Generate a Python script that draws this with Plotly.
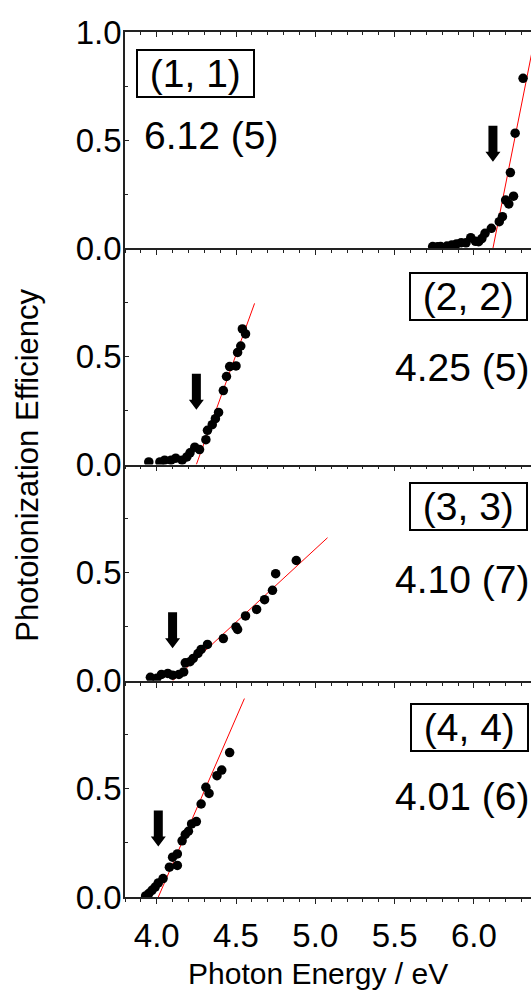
import plotly.graph_objects as go

# Photoionization efficiency curves for four cluster sizes
sizes = ["(1, 1)", "(2, 2)", "(3, 3)", "(4, 4)"]
threshold_text = ["6.12 (5)", "4.25 (5)", "4.10 (7)", "4.01 (6)"]
thresholds = [6.12, 4.25, 4.10, 4.01]

# photon energy (eV) and efficiency, one pair per panel
e1 = [5.74, 5.77, 5.79, 5.83, 5.86, 5.89, 5.92, 5.95, 5.98, 6.01, 6.03, 6.05, 6.07,
      6.11, 6.16, 6.18, 6.20, 6.22, 6.25, 6.23, 6.26, 6.31]
p1 = [0.008, 0.007, 0.008, 0.010, 0.015, 0.020, 0.026, 0.025, 0.049, 0.032, 0.030,
      0.045, 0.069, 0.092, 0.123, 0.146, 0.223, 0.205, 0.241, 0.350, 0.532, 0.786]

e2 = [3.95, 4.02, 4.05, 4.09, 4.12, 4.16, 4.19, 4.21, 4.24, 4.27, 4.31, 4.32,
      4.35, 4.37, 4.39, 4.42, 4.44, 4.46, 4.50, 4.51, 4.53, 4.54, 4.56]
p2 = [0.012, 0.012, 0.020, 0.020, 0.029, 0.020, 0.035, 0.054, 0.080, 0.069, 0.115,
      0.158, 0.184, 0.212, 0.241, 0.342, 0.407, 0.453, 0.456, 0.518, 0.548, 0.627, 0.604]

e3 = [3.96, 4.00, 4.03, 4.07, 4.10, 4.14, 4.17, 4.18, 4.21, 4.23, 4.26, 4.28,
      4.32, 4.42, 4.50, 4.51, 4.56, 4.63, 4.68, 4.73, 4.75, 4.88]
p3 = [0.016, 0.011, 0.029, 0.034, 0.026, 0.029, 0.041, 0.083, 0.088, 0.103, 0.126,
      0.145, 0.168, 0.195, 0.249, 0.237, 0.300, 0.330, 0.375, 0.418, 0.495, 0.556]

e4 = [3.93, 3.95, 3.97, 3.99, 4.01, 4.04, 4.08, 4.13, 4.10, 4.13, 4.16, 4.18,
      4.20, 4.22, 4.25, 4.28, 4.33, 4.31, 4.38, 4.41, 4.46]
p4 = [0.005, 0.016, 0.031, 0.046, 0.065, 0.085, 0.138, 0.146, 0.184, 0.199, 0.260,
      0.289, 0.304, 0.338, 0.349, 0.430, 0.479, 0.507, 0.561, 0.587, 0.668]

energies = [e1, e2, e3, e4]
efficiencies = [p1, p2, p3, p4]

# linear onset fits: y = slope * (E - threshold), drawn up to fit_end
fit_slope = [3.69, 2.03, 0.677, 1.69]
fit_end = [6.40, 4.617, 5.077, 4.553]

# height at which each onset arrow points
arrow_tip = [0.40, 0.253, 0.15, 0.233]

x_ticks = [4.0, 4.5, 5.0, 5.5, 6.0]
x_ticktext = ["4.0", "4.5", "5.0", "5.5", "6.0"]

FONT = "Liberation Sans, Arial, sans-serif"
AX = "#222222"
X_RANGE = [3.80, 6.36]

fig = go.Figure()

for k in range(4):
    xa = "x" if k == 0 else f"x{k + 1}"
    ya = "y" if k == 0 else f"y{k + 1}"
    t0 = thresholds[k]
    fx = [t0, fit_end[k]]
    fy = [0.0, fit_slope[k] * (fit_end[k] - t0)]
    fig.add_trace(go.Scatter(x=fx, y=fy, mode="lines", xaxis=xa, yaxis=ya,
                             line=dict(color="#ff0000", width=1), showlegend=False,
                             hoverinfo="skip"))
    fig.add_trace(go.Scatter(x=energies[k], y=efficiencies[k], mode="markers",
                             xaxis=xa, yaxis=ya, showlegend=False,
                             marker=dict(color="black", size=9.5, line=dict(width=0))))

# top frame of the uppermost panel
fig.add_trace(go.Scatter(x=[], y=[], xaxis="x5", yaxis="y", showlegend=False))

domains = [[0.75, 1.0], [0.5, 0.75], [0.25, 0.5], [0.0, 0.25]]

layout = dict(
    width=531, height=990,
    margin=dict(l=124.5, r=0, t=31.7, b=92.7),
    paper_bgcolor="white", plot_bgcolor="white",
    font=dict(family=FONT, color="black"),
    showlegend=False,
)

for k in range(4):
    xname = "xaxis" if k == 0 else f"xaxis{k + 1}"
    yname = "yaxis" if k == 0 else f"yaxis{k + 1}"
    yref = "y" if k == 0 else f"y{k + 1}"
    layout[xname] = dict(
        range=X_RANGE, anchor=yref, domain=[0, 1],
        showline=True, linecolor=AX, linewidth=1.5, mirror=False,
        showgrid=False, zeroline=False,
        tickmode="array", tickvals=x_ticks, ticktext=x_ticktext,
        ticks="outside", ticklen=5, tickwidth=1.2, tickcolor=AX,
        minor=dict(dtick=0.1, tick0=3.8, ticks="outside", ticklen=3,
                   tickwidth=1, tickcolor=AX),
        showticklabels=(k == 3),
        tickfont=dict(size=33, family=FONT, color="black"),
        ticklabelstandoff=4,
    )
    if k != 3:
        layout[xname]["matches"] = "x4"
    yvals = [0.0, 0.5, 1.0] if k == 0 else [0.0, 0.5]
    layout[yname] = dict(
        range=[0, 1.0], domain=domains[k], anchor=xname.replace("axis", ""),
        showline=True, linecolor=AX, linewidth=1.5, mirror=False,
        showgrid=False, zeroline=False,
        tickmode="array", tickvals=yvals, ticktext=[f"{v:.1f}" for v in yvals],
        ticks="inside", ticklen=4, tickwidth=1.2, tickcolor=AX,
        minor=dict(tickmode="array", tickvals=[0.25, 0.75], ticks="inside",
                   ticklen=3, tickwidth=1, tickcolor=AX),
        tickfont=dict(size=33, family=FONT, color="black"),
        ticklabelstandoff=-5,
    )

layout["xaxis5"] = dict(
    range=X_RANGE, overlaying="x", side="top", anchor="y",
    showline=True, linecolor=AX, linewidth=1.5, showgrid=False, zeroline=False,
    tickmode="array", tickvals=x_ticks, ticks="inside", ticklen=5,
    tickwidth=1.2, tickcolor=AX, showticklabels=False,
    minor=dict(dtick=0.1, tick0=3.8, ticks="inside", ticklen=3,
               tickwidth=1, tickcolor=AX),
)

fig.update_layout(**layout)

# size labels (boxed) and onset energies
box_pos = [(0.026, 0.809, "left"), (0.992, 0.777, "right"),
           (0.992, 0.804, "right"), (0.994, 0.786, "right")]
val_pos = [(0.042, 0.523, "left"), (1.0, 0.45, "right"),
           (1.0, 0.467, "right"), (1.0, 0.463, "right")]
annotations = []
for k in range(4):
    xr = "x domain" if k == 0 else f"x{k + 1} domain"
    yr = "y domain" if k == 0 else f"y{k + 1} domain"
    bx, by, bxa = box_pos[k]
    annotations.append(dict(
        text="\u00a0" + sizes[k] + "\u00a0", xref=xr, yref=yr, x=bx, y=by,
        xanchor=bxa, yanchor="middle", showarrow=False,
        font=dict(size=39, family=FONT, color="black"),
        bordercolor="black", borderwidth=2, borderpad=1))
    vx, vy, vxa = val_pos[k]
    annotations.append(dict(
        text=threshold_text[k], xref=xr, yref=yr, x=vx, y=vy,
        xanchor=vxa, yanchor="middle", showarrow=False,
        font=dict(size=39, family=FONT, color="black")))

annotations.append(dict(
    text="Photon Energy / eV", xref="paper", yref="paper", x=0.475, y=-0.0665,
    xanchor="center", yanchor="top", showarrow=False,
    font=dict(size=30, family=FONT, color="black")))
annotations.append(dict(
    text="Photoionization Efficiency", xref="paper", yref="paper", x=-0.2423,
    y=0.4994, xanchor="center", yanchor="middle", textangle=-90, showarrow=False,
    font=dict(size=31, family=FONT, color="black")))

fig.update_layout(annotations=annotations)

# onset arrows: filled down-arrows whose tips sit at the threshold energy
arrow_path = "M 0,0 L -7.5,10 L -4.5,10 L -4.5,36 L 4.5,36 L 4.5,10 L 7.5,10 Z"
shapes = []
for k in range(4):
    xr = "x" if k == 0 else f"x{k + 1}"
    yr = "y" if k == 0 else f"y{k + 1}"
    shapes.append(dict(type="path", xref=xr, yref=yr, xsizemode="pixel",
                       ysizemode="pixel", xanchor=thresholds[k], yanchor=arrow_tip[k],
                       path=arrow_path, fillcolor="black", line=dict(width=0)))
fig.update_layout(shapes=shapes)

fig.write_html("out.html")
